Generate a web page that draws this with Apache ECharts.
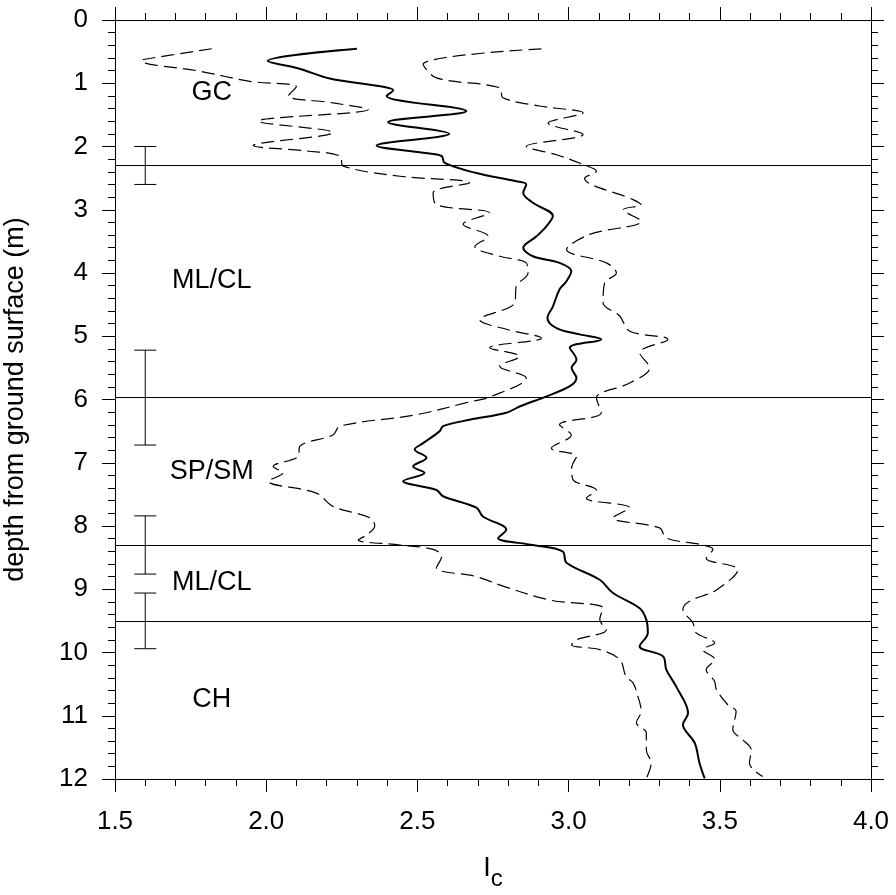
<!DOCTYPE html>
<html>
<head>
<meta charset="utf-8">
<title>Ic profile</title>
<script src="https://cdn.jsdelivr.net/npm/echarts@6/dist/echarts.min.js"></script>
<style>
  html, body { margin: 0; padding: 0; background: #fff; }
  #chart { width: 896px; height: 895px; }
</style>
</head>
<body>
<div id="chart"></div>
<script>
// mean Ic profile (solid)
const meanDepth = [0.455, 0.65, 0.77, 0.925, 1.057, 1.11, 1.2, 1.44, 1.616, 1.80, 1.985, 2.10, 2.15, 2.26, 2.42, 2.55, 2.60, 2.73, 2.89, 3.10, 3.26, 3.42, 3.60, 3.735, 3.84, 3.97, 4.13, 4.26, 4.53, 4.71, 4.87, 4.97, 5.05, 5.18, 5.37, 5.50, 5.66, 5.79, 5.95, 6.11, 6.21, 6.32, 6.42, 6.50, 6.69, 6.79, 6.92, 7.06, 7.16, 7.29, 7.43, 7.53, 7.71, 7.85, 8.06, 8.19, 8.30, 8.40, 8.58, 8.85, 9.06, 9.30, 9.48, 9.69, 9.90, 10.06, 10.27, 10.54, 10.96, 11.14, 11.43, 11.75, 11.99];
const meanIc = [2.30, 2.005, 2.11, 2.21, 2.387, 2.42, 2.398, 2.662, 2.403, 2.605, 2.365, 2.519, 2.58, 2.59, 2.695, 2.827, 2.86, 2.85, 2.882, 2.948, 2.927, 2.894, 2.85, 2.882, 2.97, 3.009, 2.993, 2.97, 2.948, 2.93, 2.96, 3.037, 3.108, 3.004, 3.026, 3.01, 3.026, 3.004, 2.927, 2.838, 2.794, 2.673, 2.585, 2.574, 2.519, 2.491, 2.53, 2.486, 2.524, 2.453, 2.563, 2.585, 2.695, 2.717, 2.794, 2.767, 2.882, 2.98, 2.993, 3.103, 3.147, 3.235, 3.257, 3.262, 3.235, 3.312, 3.323, 3.356, 3.395, 3.378, 3.417, 3.433, 3.45];

// lower bound (left dashed)
const lowDepth = [0.455, 0.625, 0.65, 0.81, 0.97, 1.057, 1.2, 1.31, 1.415, 1.60, 1.78, 1.985, 2.07, 2.15, 2.31, 2.47, 2.575, 2.73, 2.92, 3.05, 3.23, 3.42, 3.58, 3.735, 3.84, 4.0, 4.21, 4.47, 4.74, 4.89, 5.03, 5.18, 5.32, 5.475, 5.66, 5.95, 6.05, 6.24, 6.42, 6.56, 6.74, 6.90, 7.06, 7.16, 7.29, 7.48, 7.69, 7.87, 8.0, 8.14, 8.22, 8.30, 8.37, 8.48, 8.66, 8.80, 8.95, 9.17, 9.30, 9.48, 9.64, 9.80, 9.88, 9.955, 10.11, 10.38, 10.48, 10.69, 10.93, 11.11, 11.27, 11.54, 11.75, 11.99];
const lowIc = [1.82, 1.594, 1.588, 1.781, 1.946, 2.10, 2.073, 2.221, 2.337, 1.974, 2.221, 1.957, 2.133, 2.244, 2.255, 2.442, 2.673, 2.552, 2.563, 2.739, 2.651, 2.734, 2.69, 2.772, 2.86, 2.866, 2.827, 2.822, 2.706, 2.794, 2.91, 2.739, 2.838, 2.772, 2.86, 2.745, 2.662, 2.497, 2.244, 2.221, 2.111, 2.106, 2.023, 2.056, 2.007, 2.166, 2.221, 2.343, 2.359, 2.332, 2.304, 2.442, 2.552, 2.58, 2.563, 2.695, 2.783, 2.937, 3.114, 3.103, 3.125, 3.026, 3.01, 3.103, 3.169, 3.19, 3.213, 3.229, 3.24, 3.224, 3.257, 3.257, 3.273, 3.257];

// upper bound (right dashed)
const highDepth = [0.455, 0.70, 0.915, 1.07, 1.23, 1.36, 1.47, 1.63, 1.81, 2.0, 2.13, 2.285, 2.39, 2.50, 2.84, 2.92, 3.0, 3.18, 3.39, 3.63, 3.84, 4.0, 4.16, 4.47, 4.68, 4.92, 5.05, 5.26, 5.50, 5.74, 5.975, 6.21, 6.40, 6.56, 6.77, 6.90, 7.08, 7.27, 7.43, 7.56, 7.71, 7.87, 8.03, 8.19, 8.30, 8.37, 8.51, 8.69, 9.01, 9.19, 9.32, 9.53, 9.69, 9.85, 9.955, 10.11, 10.27, 10.46, 10.59, 10.83, 10.93, 11.22, 11.38, 11.54, 11.75, 11.96];
const highIc = [2.91, 2.519, 2.563, 2.772, 2.783, 2.904, 3.048, 2.932, 3.048, 2.86, 2.96, 3.048, 3.092, 3.053, 3.213, 3.24, 3.18, 3.24, 3.07, 2.993, 3.125, 3.158, 3.119, 3.114, 3.169, 3.202, 3.328, 3.235, 3.268, 3.202, 3.092, 3.108, 2.97, 3.009, 2.943, 3.026, 3.01, 3.015, 3.092, 3.059, 3.202, 3.147, 3.301, 3.323, 3.444, 3.477, 3.455, 3.56, 3.489, 3.40, 3.378, 3.411, 3.422, 3.483, 3.444, 3.483, 3.455, 3.483, 3.489, 3.527, 3.554, 3.543, 3.576, 3.604, 3.598, 3.642];

// layer boundaries and their uncertainty
const boundaryDepth = [2.3, 5.97, 8.3, 9.5];
const boundaryHalf = [0.3, 0.75, 0.46, 0.44];
const errorBarIc = 1.6;

// soil layer labels
const layerNames = ['GC', 'ML/CL', 'SP/SM', 'ML/CL', 'CH'];
const layerDepth = [1.15, 4.12, 7.14, 8.90, 10.75];
const layerIc = 1.82;

const xTicks = [1.5, 2.0, 2.5, 3.0, 3.5, 4.0];
const yTicks = [0, 1, 2, 3, 4, 5, 6, 7, 8, 9, 10, 11, 12];

const FONT = '"Liberation Sans", Arial, Helvetica, sans-serif';
const zip = (xs, ys) => xs.map((x, i) => [x, ys[i]]);

const chart = echarts.init(document.getElementById('chart'), null, { renderer: 'canvas' });

const axisCommon = {
  type: 'value',
  axisLine: { show: true, onZero: false, lineStyle: { color: '#000', width: 1 } },
  axisTick: { show: true, inside: false, length: 13, lineStyle: { color: '#000', width: 1 } },
  minorTick: { show: true, splitNumber: 5, length: 7, lineStyle: { color: '#000', width: 1 } },
  splitLine: { show: false },
  minorSplitLine: { show: false }
};

const option = {
  animation: false,
  backgroundColor: '#fff',
  textStyle: { fontFamily: FONT },
  grid: { left: 115, right: 25, top: 20, bottom: 116, containLabel: false, outerBoundsMode: 'none' },
  xAxis: [
    Object.assign({}, axisCommon, {
      position: 'bottom',
      min: xTicks[0],
      max: xTicks[xTicks.length - 1],
      interval: 0.5,
      axisLabel: {
        color: '#000', fontSize: 26, fontFamily: FONT, margin: 30,
        formatter: (v) => v.toFixed(1)
      },
      name: '{a|I}{b|c}',
      nameLocation: 'middle',
      nameGap: 68,
      nameTextStyle: {
        color: '#000', fontFamily: FONT,
        rich: {
          a: { fontSize: 27, fontFamily: FONT, color: '#000' },
          b: { fontSize: 24, fontFamily: FONT, color: '#000', padding: [20, 0, 0, 0] }
        }
      }
    }),
    Object.assign({}, axisCommon, {
      position: 'top',
      min: xTicks[0],
      max: xTicks[xTicks.length - 1],
      interval: 0.5,
      axisLabel: { show: false }
    })
  ],
  yAxis: [
    Object.assign({}, axisCommon, {
      position: 'left',
      inverse: true,
      min: yTicks[0],
      max: yTicks[yTicks.length - 1],
      interval: 1,
      axisLabel: { color: '#000', fontSize: 26, fontFamily: FONT, margin: 27 },
      name: 'depth from ground surface (m)',
      nameLocation: 'middle',
      nameGap: 86,
      nameTextStyle: { color: '#000', fontSize: 27, fontFamily: FONT }
    }),
    Object.assign({}, axisCommon, {
      position: 'right',
      inverse: true,
      min: yTicks[0],
      max: yTicks[yTicks.length - 1],
      interval: 1,
      axisLabel: { show: false }
    })
  ],
  series: [
    {
      name: 'lower',
      type: 'line',
      data: zip(lowIc, lowDepth),
      smooth: 0.35,
      symbol: 'none',
      lineStyle: { color: '#000', width: 1.2, type: [13, 6] },
      // layer boundaries
      markLine: {
        silent: true,
        symbol: ['none', 'none'],
        label: { show: false },
        lineStyle: { color: '#000', width: 1, type: 'solid' },
        data: boundaryDepth.map((d) => ({ yAxis: d }))
      }
    },
    {
      name: 'upper',
      type: 'line',
      data: zip(highIc, highDepth),
      smooth: 0.35,
      symbol: 'none',
      lineStyle: { color: '#000', width: 1.2, type: [13, 6] }
    },
    {
      name: 'mean',
      type: 'line',
      data: zip(meanIc, meanDepth),
      smooth: 0.35,
      symbol: 'none',
      lineStyle: { color: '#000', width: 2, type: 'solid' }
    },
    {
      name: 'boundary error',
      type: 'custom',
      data: boundaryDepth.map((d, i) => [errorBarIc, d, boundaryHalf[i]]),
      renderItem: function (params, api) {
        const x = api.value(0);
        const c = api.value(1);
        const h = api.value(2);
        const top = api.coord([x, c - h]);
        const bot = api.coord([x, c + h]);
        const cap = 11;
        const style = { stroke: '#000', lineWidth: 1 };
        return {
          type: 'group',
          children: [
            { type: 'line', shape: { x1: top[0], y1: top[1], x2: bot[0], y2: bot[1] }, style: style },
            { type: 'line', shape: { x1: top[0] - cap, y1: top[1], x2: top[0] + cap, y2: top[1] }, style: style },
            { type: 'line', shape: { x1: bot[0] - cap, y1: bot[1], x2: bot[0] + cap, y2: bot[1] }, style: style }
          ]
        };
      }
    },
    {
      name: 'layers',
      type: 'scatter',
      data: layerNames.map((n, i) => ({ name: n, value: [layerIc, layerDepth[i]] })),
      symbolSize: 1,
      itemStyle: { color: 'rgba(0,0,0,0)', opacity: 1 },
      label: {
        show: true,
        position: 'inside',
        formatter: '{b}',
        color: '#000',
        opacity: 1,
        textBorderWidth: 0,
        fontSize: 27,
        fontFamily: FONT
      }
    }
  ]
};

chart.setOption(option);
</script>
</body>
</html>
